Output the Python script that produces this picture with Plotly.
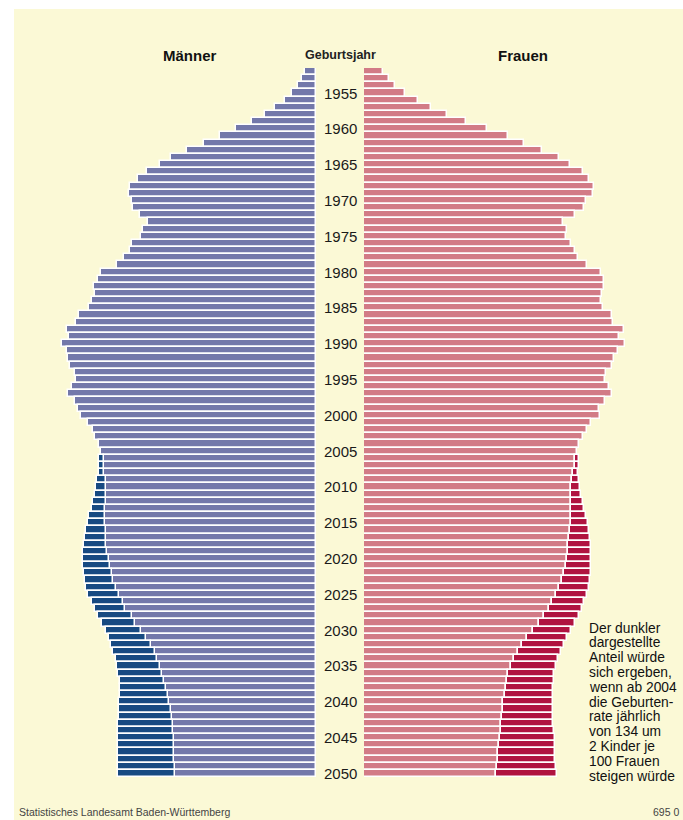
import plotly.graph_objects as go

# Geburtsjahre (Kategorien)
jahre = list(range(1952, 2051))

# Männer je Geburtsjahr (Basisvariante, relative Einheiten)
maenner = [
    11.5, 14.2, 18.4, 24.1, 31.4, 40.6, 50.9, 64.3, 80.4, 96.4,          # 1952-1961
    111.7, 129.0, 145.4, 156.1, 169.5, 178.0, 185.6, 186.8, 183.7, 182.9,  # 1962-1971
    176.0, 167.6, 173.4, 175.3, 184.5, 185.6, 192.5, 199.0, 215.5, 218.1,  # 1972-1981
    222.0, 220.8, 223.9, 226.6, 237.3, 240.3, 249.5, 246.8, 254.5, 249.5,  # 1982-1991
    248.0, 246.1, 241.1, 240.0, 243.8, 247.6, 241.1, 238.4, 235.4, 227.7,  # 1992-2001
    223.1, 220.8, 217.4, 215.5, 212.4, 212.4, 211.6, 210.5, 210.5, 210.5,  # 2002-2011
    210.5, 211.3, 211.3, 211.3, 210.5, 210.5, 209.7, 208.6, 207.4, 205.9,  # 2012-2021
    204.4, 202.8, 199.8, 197.1, 193.3, 190.6, 184.5, 180.6, 175.3, 170.3,  # 2022-2031
    164.6, 161.5, 158.8, 156.1, 153.8, 152.3, 150.4, 148.1, 146.6, 145.4,  # 2032-2041
    144.3, 143.5, 142.7, 142.4, 141.6, 141.6, 141.6, 140.8, 140.8,         # 2042-2050
]

# Frauen je Geburtsjahr (Basisvariante)
frauen = [
    19.1, 24.5, 31.4, 40.9, 54.3, 67.0, 83.0, 102.2, 123.2, 143.5,        # 1952-1961
    159.6, 178.0, 194.8, 205.5, 218.9, 225.0, 229.6, 228.9, 222.0, 219.7,  # 1962-1971
    211.3, 199.0, 202.8, 201.7, 207.4, 210.5, 214.3, 222.7, 237.3, 240.0,  # 1972-1981
    240.3, 238.0, 237.3, 238.8, 248.0, 248.8, 260.2, 255.3, 261.0, 254.1,  # 1982-1991
    249.5, 248.4, 241.9, 240.7, 244.9, 248.4, 241.1, 235.0, 236.1, 226.6,  # 1992-2001
    222.7, 218.9, 215.1, 213.2, 211.3, 210.5, 208.6, 208.2, 207.4, 207.4,  # 2002-2011
    206.7, 207.4, 206.7, 206.7, 205.5, 204.7, 204.4, 203.6, 202.8, 201.7,  # 2012-2021
    199.8, 197.9, 195.2, 192.1, 188.3, 184.5, 179.9, 174.9, 169.2, 163.4,  # 2022-2031
    158.4, 153.8, 150.0, 147.0, 144.3, 143.1, 141.6, 140.5, 139.3, 138.5,  # 2032-2041
    137.8, 137.4, 136.6, 135.9, 134.7, 133.9, 133.6, 132.8, 132.0,         # 2042-2050
]

# Variante mit steigender Geburtenrate ab 2004 (Gesamtwert, dunkler Anteil)
jahre_hoch = list(range(2006, 2051))
maenner_hoch = [
    217, 217, 217, 219, 220, 221, 223, 224, 227, 228,   # 2006-2015
    230, 231, 232, 233, 233, 233, 232, 231, 230, 228,   # 2016-2025
    224, 221, 218, 214, 210, 207, 205, 203, 200, 199,   # 2026-2035
    198, 196, 196, 196, 197, 197, 197, 198, 198, 198,   # 2036-2045
    198, 198, 198, 198, 198,                            # 2046-2050
]
frauen_hoch = [
    215, 215, 214, 215, 216, 217, 219, 220, 222, 223.5,      # 2006-2015
    225, 226, 226.6, 227, 227, 226.6, 226.6, 226, 224.6, 222.7,  # 2016-2025
    219.7, 218, 215, 211, 207.4, 202.8, 199.8, 196.7, 194, 192,  # 2026-2035
    190, 190, 189.4, 189, 189, 189, 189.4, 189.4, 190, 191,      # 2036-2045
    191, 191.3, 191.3, 192, 193,                                 # 2046-2050
]

beschriftete_jahre = [1955, 1960, 1965, 1970, 1975, 1980, 1985, 1990, 1995, 2000,
                      2005, 2010, 2015, 2020, 2025, 2030, 2035, 2040, 2045, 2050]

hinweis_zeilen = ["Der dunkler", "dargestellte", "Anteil würde", "sich ergeben,",
                  "wenn ab 2004", "die Geburten-", "rate jährlich", "von 134 um",
                  "2 Kinder je", "100 Frauen", "steigen würde"]

# Farben
C_M = "#7378AA"
C_M_DARK = "#174A82"
C_F = "#D27B86"
C_F_DARK = "#B01340"
BG = "#FBF9D6"

basis_m = [maenner[jahre.index(j)] for j in jahre_hoch]
basis_f = [frauen[jahre.index(j)] for j in jahre_hoch]
extra_m = [h - b for h, b in zip(maenner_hoch, basis_m)]
extra_f = [h - b for h, b in zip(frauen_hoch, basis_f)]

line = dict(color="white", width=1.5)

fig = go.Figure()
fig.add_trace(go.Bar(y=jahre, x=maenner, orientation="h", xaxis="x", yaxis="y",
                     marker=dict(color=C_M, line=line), hoverinfo="skip"))
fig.add_trace(go.Bar(y=jahre_hoch, x=extra_m, base=basis_m, orientation="h",
                     xaxis="x", yaxis="y",
                     marker=dict(color=C_M_DARK, line=line), hoverinfo="skip"))
fig.add_trace(go.Bar(y=jahre, x=frauen, orientation="h", xaxis="x2", yaxis="y",
                     marker=dict(color=C_F, line=line), hoverinfo="skip"))
fig.add_trace(go.Bar(y=jahre_hoch, x=extra_f, base=basis_f, orientation="h",
                     xaxis="x2", yaxis="y",
                     marker=dict(color=C_F_DARK, line=line), hoverinfo="skip"))

W, H = 683, 820
ML, MR, MT, MB = 46, 49, 68, 43
PW = W - ML - MR
PH = H - MT - MB
R = 270

def px_x(p):
    return (p - ML) / PW

def px_y(p):
    return (H - MB - p) / PH

annotations = []
font_base = "Liberation Sans, Arial, sans-serif"
for j in beschriftete_jahre:
    annotations.append(dict(x=0.5, xref="paper", y=j, yref="y", text=str(j),
                            showarrow=False, xanchor="center", yanchor="middle",
                            font=dict(family=font_base, size=15, color="#1a1a1a")))

def txt(x, y, text, size, color="#111", xanchor="center"):
    return dict(x=px_x(x), y=px_y(y), xref="paper", yref="paper", text=text,
                showarrow=False, xanchor=xanchor, yanchor="middle",
                font=dict(family=font_base, size=size, color=color))

annotations += [
    txt(190, 55, "<b>Männer</b>", 15),
    txt(340, 55, "<b>Geburtsjahr</b>", 12.5, "#222"),
    txt(523, 55, "<b>Frauen</b>", 15),
    txt(17, 812, "Statistisches Landesamt Baden-Württemberg", 10.5, "#444", "left"),
    txt(681, 812, "695 0", 10.5, "#444", "right"),
]
for i, t in enumerate(hinweis_zeilen):
    annotations.append(txt(587, 628 + i * 14.8, t, 13.8, "#111", "left"))

fig.update_layout(
    width=W, height=H,
    margin=dict(l=ML, r=MR, t=MT, b=MB, pad=0),
    paper_bgcolor="white",
    plot_bgcolor="rgba(0,0,0,0)",
    barmode="overlay",
    bargap=0,
    showlegend=False,
    xaxis=dict(domain=[0, R / PW], range=[R, 0], visible=False, anchor="y", fixedrange=True),
    xaxis2=dict(domain=[(364 - ML) / PW, (364 - ML + R) / PW], range=[0, R], visible=False,
                anchor="y", fixedrange=True),
    yaxis=dict(range=[2050.5, 1951.5], visible=False, fixedrange=True),
    annotations=annotations,
    shapes=[dict(type="rect", xref="paper", yref="paper",
                 x0=px_x(14), x1=px_x(W + 20), y0=px_y(H + 20), y1=px_y(9),
                 fillcolor=BG, line=dict(width=0), layer="below")],
)

fig.write_html("out.html", config={"displayModeBar": False},
               post_script="document.body.style.margin='0';document.body.style.overflow='hidden';")
